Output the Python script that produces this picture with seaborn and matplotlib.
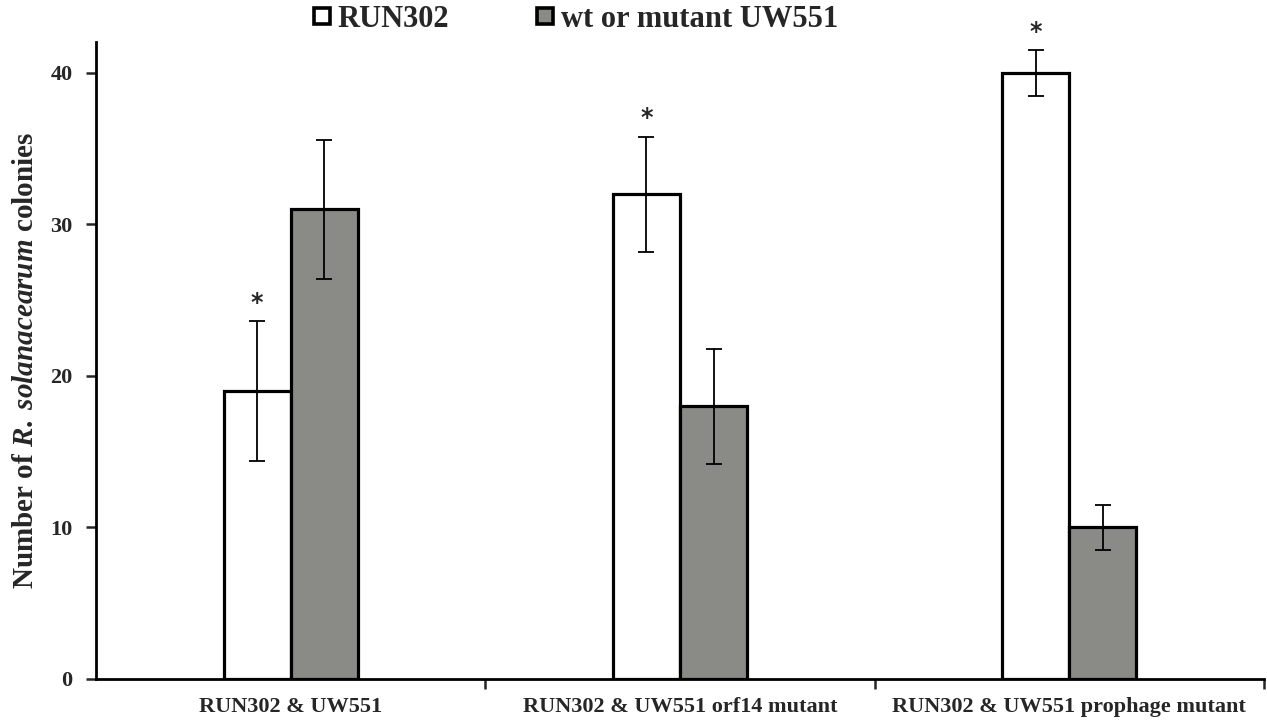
import matplotlib
matplotlib.use("Agg")
import matplotlib.pyplot as plt
import numpy as np
import pandas as pd
import seaborn as sns
from matplotlib.lines import Line2D

# Daten
groups = ["RUN302 & UW551", "RUN302 & UW551 orf14 mutant", "RUN302 & UW551 prophage mutant"]
strains = ["RUN302", "wt or mutant UW551"]
run302_values = [19, 32, 40]
uw551_values = [31, 18, 10]
run302_err = [4.6, 3.8, 1.5]
uw551_err = [4.6, 3.8, 1.5]
stars = ["*", "*", "*"]

sns.set_theme(style="white")
plt.rcParams["font.family"] = ["Liberation Serif", "DejaVu Serif"]
plt.rcParams["mathtext.fontset"] = "custom"
plt.rcParams["mathtext.rm"] = "Liberation Serif:bold"
plt.rcParams["mathtext.bfit"] = "Liberation Serif:bold:italic"
plt.rcParams["mathtext.it"] = "Liberation Serif:bold:italic"

df = pd.DataFrame({
    "group": groups * 2,
    "strain": [strains[0]] * 3 + [strains[1]] * 3,
    "value": run302_values + uw551_values,
    "err": run302_err + uw551_err,
})

fig = plt.figure(figsize=(12.67, 7.22), dpi=100)
ax = fig.add_axes([0.0758, 0.0596, 0.9218, 0.8824])

sns.barplot(data=df, x="group", y="value", hue="strain", order=groups, hue_order=strains,
            palette=["white", "#8a8a86"], width=0.345, gap=0, errorbar=None,
            edgecolor="black", linewidth=2.3, legend=False, ax=ax)

# Fehlerbalken und Sternchen an die Balkenmitten setzen
n = len(groups)
for i, patch in enumerate(ax.patches[:2 * n]):
    xc = patch.get_x() + patch.get_width() / 2
    h = patch.get_height()
    e = df["err"].iloc[i]
    ax.errorbar(xc, h, yerr=e, fmt="none", ecolor="black", elinewidth=1.3,
                capsize=5.5, capthick=1.3, zorder=5)
    if i < n:
        ax.text(xc, h + e + 1.2, stars[i], ha="center", va="center",
                fontsize=17, fontweight="bold", family=["DejaVu Sans"])

ax.set_xlim(-0.5, 2.5)
ax.set_ylim(0, 42.05)
ax.set_yticks([0, 10, 20, 30, 40])
ax.tick_params(axis="y", direction="out", length=7, width=1.8, left=True,
               labelsize=16, pad=10)
for lab in ax.get_yticklabels():
    lab.set_fontweight("bold")

ax.set_xticks(range(n))
ax.set_xticklabels(groups, fontsize=16, fontweight="bold")
ax.tick_params(axis="x", length=0, pad=13)
ax.set_xticks([0.5, 1.5, 2.5], minor=True)
ax.tick_params(axis="x", which="minor", direction="out", length=7, width=1.8, bottom=True)

for side in ["top", "right"]:
    ax.spines[side].set_visible(False)
for side in ["left", "bottom"]:
    ax.spines[side].set_linewidth(2)
    ax.spines[side].set_color("black")

ax.set_xlabel("")
ax.set_ylabel(r"Number of $\mathit{R.\;solanacearum}$ colonies", fontsize=21,
              fontweight="bold", labelpad=8)

handles = [Line2D([], [], marker="s", linestyle="none", markersize=11,
                  markerfacecolor=c, markeredgecolor="black", markeredgewidth=2.6)
           for c in ["white", "#8a8a86"]]
fig.legend(handles, strains, loc="center left", bbox_to_anchor=(0.2447, 0.973), ncol=2,
           frameon=False, handletextpad=0.1, columnspacing=2.75, handlelength=0.8,
           borderpad=0, borderaxespad=0, prop={"size": 22, "weight": "bold"})

fig.savefig("out.png", dpi=100)
